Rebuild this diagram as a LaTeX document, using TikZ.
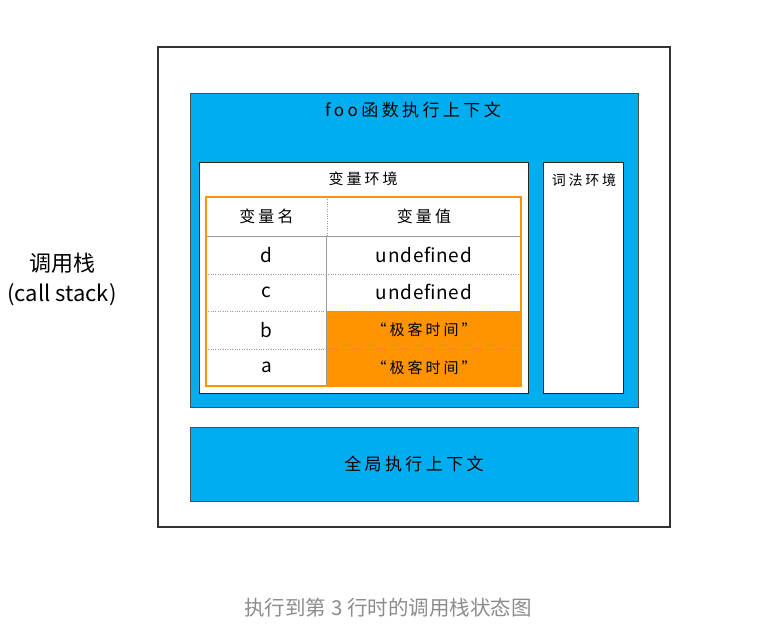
\documentclass[tikz,border=0pt]{standalone}
\usepackage{fontspec}
\setmainfont{Noto Sans CJK SC}
\newfontfamily\hand[LetterSpace=20]{Noto Sans CJK SC}
\newfontfamily\handlat[LetterSpace=4]{Noto Sans CJK SC}
\usetikzlibrary{positioning}
\definecolor{ctxblue}{RGB}{0,174,239}
\definecolor{varorange}{RGB}{255,148,0}
\definecolor{capgray}{RGB}{140,140,140}
\tikzset{
  ctx/.style={draw=black!70,fill=ctxblue,inner sep=0pt},
  envbox/.style={draw=black!85,fill=white,line width=1pt,inner sep=0pt},
  cell/.style={inner sep=0pt,minimum height=37.5pt,font=\handlat\fontsize{19}{19}\selectfont},
  namecell/.style={cell,minimum width=121pt},
  valcell/.style={cell,minimum width=194pt},
  headcell/.style={minimum height=39pt,font=\hand\fontsize{16}{16}\selectfont},
  hl/.style={fill=varorange,font=\hand\fontsize{15}{15}\selectfont},
  title/.style={font=\hand\fontsize{15}{15}\selectfont}
}
\begin{document}
\begin{tikzpicture}[x=1pt,y=-1pt]
  \useasboundingbox (0,0) rectangle (765,644);
  % call stack frame
  \node[draw=black!80,line width=1.6pt,fill=white,minimum width=512pt,minimum height=480pt,inner sep=0pt] (stack) at (414,287){};
  \node[font=\fontsize{22}{30}\selectfont,align=center] (stacklbl) at (62,279){调用栈\\(call stack)};

  % foo context
  \node[ctx,minimum width=448pt,minimum height=314pt] (foo) at (414,250){};
  \node[title,font=\hand\fontsize{17}{17}\selectfont] (footitle) at (413,110){foo函数执行上下文};
  \node[envbox,minimum width=329pt,minimum height=230pt] (varenv) at (363.5,278){};
  \node[title] (vartitle) at (363,179){变量环境};
  \node[envbox,minimum width=80pt,minimum height=230pt] (lexenv) at (583,278){};
  \node[title,font=\hand\fontsize{14}{14}\selectfont] (lextitle) at (584,180){词法环境};

  % variable table
  \node[namecell,headcell] (hname) at (266.5,216.5){变量名};
  \node[valcell,headcell] (hval) at (424,216.5){变量值};
  \node[namecell] (dname) at (266.5,254.75){d};
  \node[valcell] (dval) at (424,254.75){undefined};
  \node[namecell] (cname) at (266.5,292.25){c};
  \node[valcell] (cval) at (424,292.25){undefined};
  \node[namecell] (bname) at (266.5,329.75){b};
  \node[valcell,hl] (bval) at (424,329.75){“极客时间”};
  \node[namecell] (aname) at (266.5,367.25){a};
  \node[valcell,hl] (aval) at (424,367.25){“极客时间”};

  \draw[black!40,line width=1pt] (hname.south west) -- (hval.south east);
  \draw[black!40,dotted] (dname.south west) -- (dval.south east);
  \draw[black!40,dotted] (cname.south west) -- (cval.south east);
  \draw[black!40,dotted] (bname.south west) -- (bval.south east);
  \draw[black!40,dotted] (hval.north west) -- (hval.south west);
  \draw[black!40,line width=1pt] (dval.north west) -- (aval.south west);
  \draw[varorange,line width=2pt] (hname.north west) rectangle (aval.south east);

  % global context
  \node[ctx,minimum width=448pt,minimum height=74pt] (global) at (414,464){};
  \node[title,font=\hand\fontsize{17}{17}\selectfont] (globaltitle) at (global){全局执行上下文};

  % caption
  \node[text=capgray,font=\fontsize{20.5}{20.5}\selectfont] (caption) at (388,608){执行到第 3 行时的调用栈状态图};
\end{tikzpicture}
\end{document}
